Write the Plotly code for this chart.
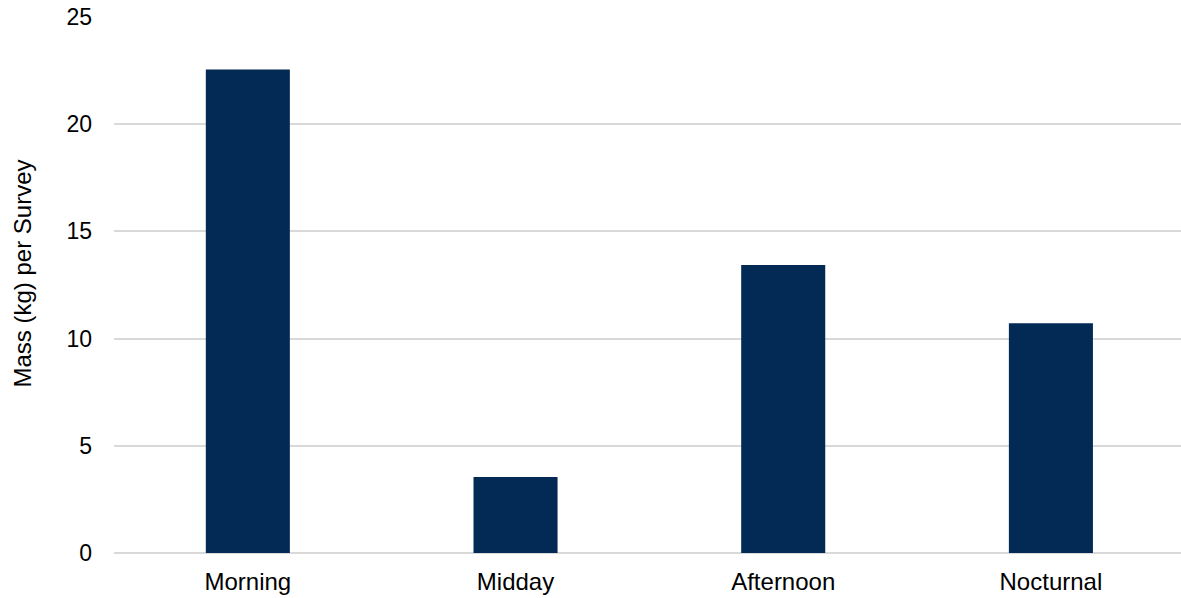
import plotly.graph_objects as go

categories = ["Morning", "Midday", "Afternoon", "Nocturnal"]
mass_per_survey = [22.55, 3.54, 13.43, 10.72]
y_ticks = [0, 5, 10, 15, 20, 25]

FONT = "Liberation Sans, Arial, sans-serif"

W, H = 1181, 598
ML, MR, MT, MB = 114, 0, 17, 45

fig = go.Figure(
    go.Bar(
        x=categories,
        y=mass_per_survey,
        marker=dict(color="#022a54", line=dict(width=0)),
        width=0.314,
    )
)

fig.update_layout(
    width=W,
    height=H,
    margin=dict(l=ML, r=MR, t=MT, b=MB),
    paper_bgcolor="white",
    plot_bgcolor="white",
    showlegend=False,
    font=dict(family=FONT, size=22, color="#000000"),
    xaxis=dict(
        range=[-0.5, 3.486],
        showgrid=False,
        zeroline=False,
        showline=False,
        ticks="",
        ticklabelstandoff=12,
        tickfont=dict(size=24, family=FONT, color="#000000"),
    ),
    yaxis=dict(
        range=[0, 25],
        tickvals=y_ticks,
        showgrid=True,
        gridcolor="#d9d9d9",
        gridwidth=1.5,
        zeroline=True,
        zerolinecolor="#d9d9d9",
        zerolinewidth=1.5,
        showline=False,
        ticks="",
        ticklabelstandoff=21,
        tickfont=dict(size=23, family=FONT, color="#000000"),
    ),
)

# y-axis title placed in pixel coordinates (center x=22, center y=273.5)
plot_h = H - MT - MB
fig.add_annotation(
    text="Mass (kg) per Survey",
    xref="paper", yref="paper",
    x=(22 - ML) / (W - ML - MR),
    y=(H - MB - 273.5) / plot_h,
    xanchor="center", yanchor="middle",
    textangle=-90,
    showarrow=False,
    font=dict(size=24, family=FONT, color="#000000"),
)

fig.write_html("out.html")
